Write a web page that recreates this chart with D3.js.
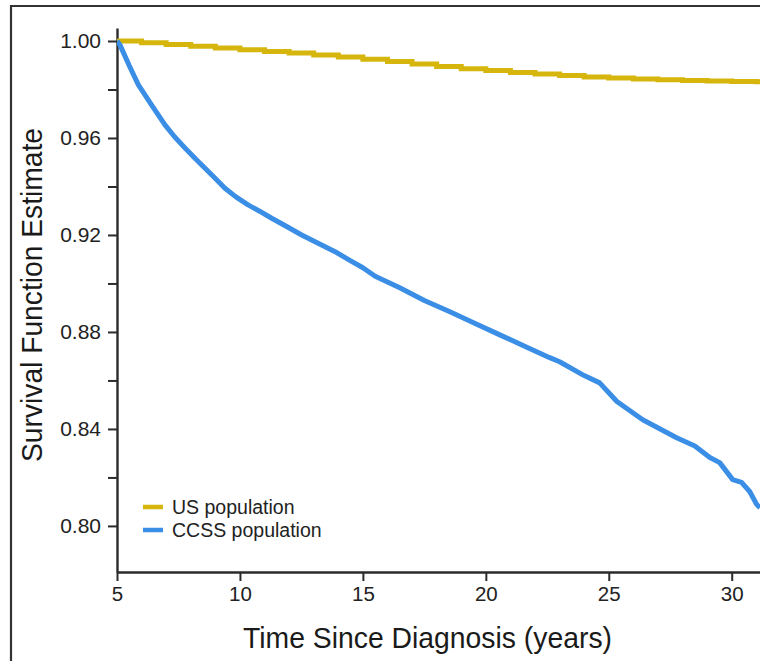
<!DOCTYPE html>
<html>
<head>
<meta charset="utf-8">
<script src="https://cdn.jsdelivr.net/npm/d3@7"></script>
<style>
  html, body { margin: 0; padding: 0; background: #fff; }
  svg { display: block; }
</style>
</head>
<body>
<svg id="chart" width="760" height="661"></svg>
<script>
// ---- Data ----
const usYears = [5,6,7,8,9,10,11,12,13,14,15,16,17,18,19,20,21,22,23,24,25,26,27,28,29,30,31,31.15];
const usSurvival = [1.0000,0.9993,0.9986,0.9978,0.9971,0.9964,0.9957,0.9950,0.9942,0.9934,0.9925,0.9915,0.9905,0.9895,0.9886,0.9878,0.9870,0.9864,0.9858,0.9852,0.9847,0.9843,0.9840,0.9837,0.9835,0.9833,0.9832,0.9832];

const ccssYears = [5.0,5.12,5.5,5.87,6.41,6.95,7.35,7.77,8.18,8.58,9.0,9.39,9.85,10.33,10.8,11.29,11.9,12.51,13.2,13.87,14.47,15.0,15.5,16.5,17.5,18.54,19.5,20.57,21.6,22.6,23.0,24.0,24.63,25.33,26.38,27.76,28.5,29.11,29.51,30.04,30.4,30.73,31.02,31.15];
const ccssSurvival = [1.000,0.9984,0.9898,0.9819,0.9736,0.9654,0.9604,0.9558,0.9515,0.9475,0.9433,0.9393,0.9356,0.9324,0.9298,0.9269,0.9235,0.9200,0.9165,0.9131,0.9095,0.9065,0.9030,0.8982,0.8930,0.8883,0.8838,0.8788,0.8740,0.8694,0.8677,0.8620,0.8590,0.8513,0.8438,0.8364,0.8330,0.8282,0.8261,0.8191,0.8180,0.8142,0.8088,0.8075];

const xTicks = [5,10,15,20,25,30];
const yTicks = [0.80,0.82,0.84,0.86,0.88,0.90,0.92,0.94,0.96,0.98,1.00];
const yLabelled = [0.80,0.84,0.88,0.92,0.96,1.00];
const seriesNames = ["US population","CCSS population"];
const seriesColors = ["#d6b60c","#3a8ee6"];

// ---- Drawing ----
const svg = d3.select("#chart");
const x = d3.scaleLinear().domain([5, 31.15]).range([117, 760]);
const y = d3.scaleLinear().domain([0.7810, 1.00536]).range([572, 28]);

// frame
svg.append("path")
  .attr("d", "M11,661 L11,6 L760,6")
  .attr("fill", "none").attr("stroke", "#333").attr("stroke-width", 2.2);

const axisColor = "#2b2b2b";
const tickFont = "'Liberation Sans', Arial, sans-serif";

// x axis
const gx = svg.append("g").attr("transform", "translate(0,572)")
  .call(d3.axisBottom(x).tickValues(xTicks).tickFormat(d3.format("d")).tickSize(9).tickSizeOuter(0).tickPadding(5));
gx.select(".domain").attr("stroke", axisColor).attr("stroke-width", 2.4);
gx.selectAll(".tick line").attr("stroke", axisColor).attr("stroke-width", 2);
gx.selectAll(".tick text").attr("font-family", tickFont)
  .attr("font-size", 20.5).attr("fill", "#222");

// y axis
const gy = svg.append("g").attr("transform", "translate(117,0)")
  .call(d3.axisLeft(y).tickValues(yTicks)
    .tickFormat(d => yLabelled.some(v => Math.abs(v - d) < 1e-6) ? d3.format(".2f")(d) : "")
    .tickSize(9).tickSizeOuter(0).tickPadding(7));
gy.select(".domain").attr("stroke", axisColor).attr("stroke-width", 2.4);
gy.selectAll(".tick line").attr("stroke", axisColor).attr("stroke-width", 2);
gy.selectAll(".tick text").attr("font-family", tickFont)
  .attr("font-size", 21).attr("fill", "#222");

// axis titles
svg.append("text")
  .attr("x", 243).attr("y", 648)
  .attr("font-family", "'Liberation Sans Narrow', 'Liberation Sans', Arial, sans-serif")
  .attr("font-size", 30).attr("fill", "#1a1a1a")
  .attr("textLength", 369).attr("lengthAdjust", "spacingAndGlyphs")
  .text("Time Since Diagnosis (years)");

svg.append("text")
  .attr("transform", "translate(42,462) rotate(-90)")
  .attr("font-family", "'Liberation Sans Narrow', 'Liberation Sans', Arial, sans-serif")
  .attr("font-size", 30).attr("fill", "#1a1a1a")
  .attr("textLength", 334).attr("lengthAdjust", "spacingAndGlyphs")
  .text("Survival Function Estimate");

// clip
svg.append("clipPath").attr("id", "plotclip")
  .append("rect").attr("x", 117).attr("y", 20).attr("width", 643).attr("height", 552);

const plot = svg.append("g").attr("clip-path", "url(#plotclip)");

const usData = usYears.map((t, i) => [t, usSurvival[i]]);
const ccssData = ccssYears.map((t, i) => [t, ccssSurvival[i]]);

plot.append("path")
  .datum(usData)
  .attr("fill", "none").attr("stroke", seriesColors[0]).attr("stroke-width", 5)
  .attr("d", d3.line().x(d => x(d[0])).y(d => y(d[1])).curve(d3.curveStepAfter));

plot.append("path")
  .datum(ccssData)
  .attr("fill", "none").attr("stroke", seriesColors[1]).attr("stroke-width", 5)
  .attr("stroke-linejoin", "round")
  .attr("d", d3.line().x(d => x(d[0])).y(d => y(d[1])));

// legend
const leg = svg.append("g");
seriesNames.forEach((name, i) => {
  const yy = 507 + i * 23;
  leg.append("line").attr("x1", 143).attr("x2", 163).attr("y1", yy).attr("y2", yy)
    .attr("stroke", seriesColors[i]).attr("stroke-width", 4.5);
  leg.append("text").attr("x", 172).attr("y", yy + 7)
    .attr("font-family", tickFont)
    .attr("font-size", 19.5).attr("fill", "#222")
    .text(name);
});
</script>
</body>
</html>
